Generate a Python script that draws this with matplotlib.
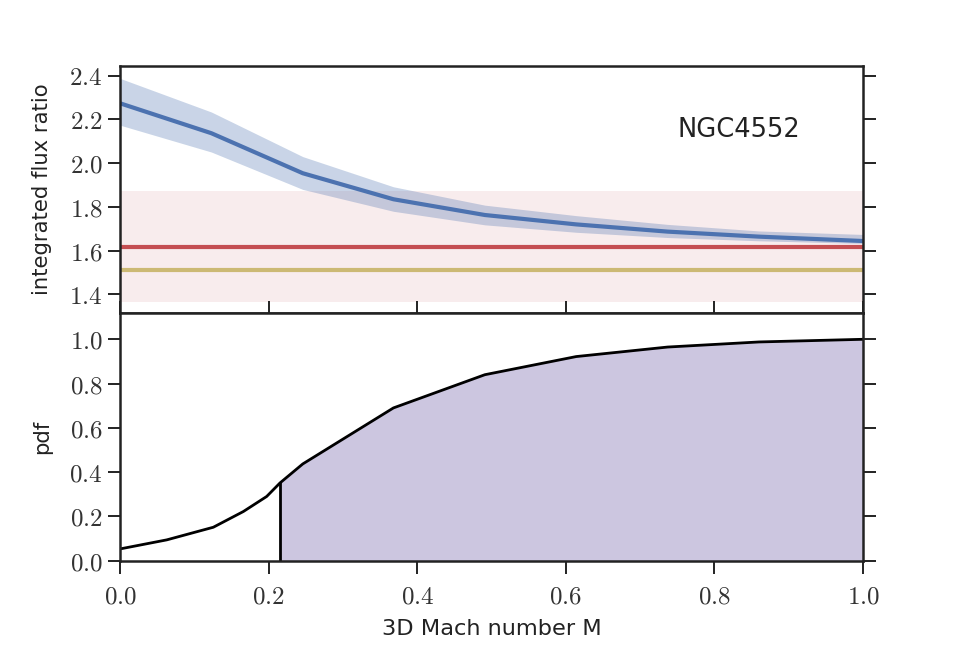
import matplotlib
matplotlib.use("Agg")
import matplotlib.pyplot as plt
from matplotlib.ticker import FuncFormatter

# ---- data ----
mach = [0.0, 0.123, 0.246, 0.368, 0.491, 0.614, 0.737, 0.86, 1.0]
flux_ratio = [2.274, 2.137, 1.954, 1.835, 1.763, 1.720, 1.687, 1.664, 1.644]
flux_lo = [2.174, 2.051, 1.880, 1.780, 1.718, 1.684, 1.660, 1.645, 1.633]
flux_hi = [2.388, 2.234, 2.030, 1.892, 1.808, 1.760, 1.720, 1.690, 1.674]

obs_ratio = 1.618
obs_lo, obs_hi = 1.366, 1.873
alt_ratio = 1.511

pdf_x = [0.0, 0.063, 0.1256, 0.166, 0.1974, 0.2153, 0.246, 0.368, 0.491, 0.614, 0.737, 0.86, 1.0]
pdf_y = [0.053, 0.094, 0.151, 0.222, 0.290, 0.351, 0.437, 0.690, 0.840, 0.922, 0.965, 0.988, 1.0]
cut_x = 0.2153
cut_y = 0.351

label_name = "NGC4552"

blue = "#4C72B0"
red = "#C44E52"
yellow = "#CCB974"
purple = "#8172B2"

plt.rcParams["mathtext.fontset"] = "cm"
plt.rcParams["font.family"] = ["DejaVu Sans"]

fig = plt.figure(figsize=(9.6, 6.6), dpi=100)
L, R = 0.125, 0.899
ax1 = fig.add_axes([L, 0.5265, R - L, 0.9005 - 0.5265])
ax2 = fig.add_axes([L, 0.1505, R - L, 0.5265 - 0.1505])

fmt = FuncFormatter(lambda v, p: r"$%.1f$" % v)

# top panel
ax1.axhspan(obs_lo, obs_hi, color=red, alpha=0.1, lw=0)
ax1.fill_between(mach, flux_lo, flux_hi, color=blue, alpha=0.3, lw=0)
ax1.axhline(obs_ratio, color=red, lw=3)
ax1.axhline(alt_ratio, color=yellow, lw=3)
ax1.plot(mach, flux_ratio, color=blue, lw=3)
ax1.text(0.833, 2.152, label_name, fontsize=18.5, ha="center", va="center", color="#222222")
ax1.set_xlim(0, 1)
ax1.set_ylim(1.317, 2.446)
ax1.set_yticks([1.4, 1.6, 1.8, 2.0, 2.2, 2.4])
ax1.set_xticks([0.0, 0.2, 0.4, 0.6, 0.8, 1.0])
ax1.yaxis.set_major_formatter(fmt)
ax1.tick_params(axis="x", direction="in", bottom=True, top=False, labelbottom=False,
                length=9, width=1.4, color="#222222")
ax1.tick_params(axis="y", direction="out", left=True, right=True, length=9, width=1.4,
                labelsize=18, color="#222222", labelcolor="#333333")
ax1.set_ylabel("integrated flux ratio", fontsize=15.2, color="#222222")

# bottom panel
mask = [x >= cut_x for x in pdf_x]
fx = [x for x, m in zip(pdf_x, mask) if m]
fy = [y for y, m in zip(pdf_y, mask) if m]
ax2.fill_between(fx, 0, fy, color=purple, alpha=0.4, lw=0)
ax2.plot(pdf_x, pdf_y, color="black", lw=2)
ax2.plot([cut_x, cut_x], [0, cut_y], color="black", lw=2)
ax2.set_xlim(0, 1)
ax2.set_ylim(0, 1.121)
ax2.set_xticks([0.0, 0.2, 0.4, 0.6, 0.8, 1.0])
ax2.set_yticks([0.0, 0.2, 0.4, 0.6, 0.8, 1.0])
ax2.xaxis.set_major_formatter(fmt)
ax2.yaxis.set_major_formatter(fmt)
ax2.tick_params(axis="x", direction="out", length=9, width=1.4, labelsize=18,
                color="#222222", labelcolor="#333333", pad=8)
ax2.tick_params(axis="y", direction="out", left=True, right=True, length=9, width=1.4,
                labelsize=18, color="#222222", labelcolor="#333333")
ax2.set_ylabel("pdf", fontsize=15.2, color="#222222")
ax2.set_xlabel("3D Mach number M", fontsize=16.2, color="#222222", labelpad=8)

for ax in (ax1, ax2):
    for s in ax.spines.values():
        s.set_linewidth(1.8)
        s.set_color("#222222")

ax1.yaxis.set_label_coords(-0.092, 0.5)
ax2.yaxis.set_label_coords(-0.092, 0.5)

fig.savefig("out.png", dpi=100)
